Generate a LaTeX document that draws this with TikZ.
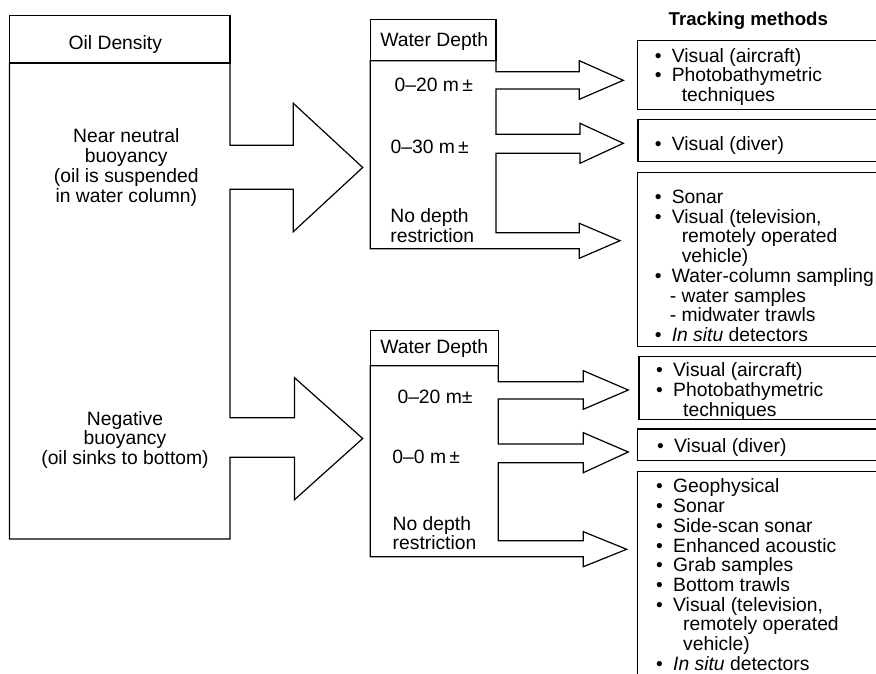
\documentclass[tikz,border=0pt]{standalone}
\usepackage{fontspec}
\setmainfont{Liberation Sans}
\usepackage{tikz}

% bullet lines of the tracking lists
\newcommand{\tmitem}[1]{\makebox[17pt][l]{\textbullet}#1}
\newcommand{\tmmore}[1]{\hspace*{27pt}#1}
\newcommand{\tmsub}[1]{\hspace*{15pt}-\ #1}
\newcommand{\tmtop}{\rule{0pt}{15pt}}

\begin{document}
\begin{tikzpicture}[x=1pt,y=-1pt]

                \edef\sizetext{19.3}
                \tikzstyle{boxline}=[draw,line width=1.2pt,line join=miter]
                \tikzstyle{txt}=[inner sep=0pt,font=\fontsize{\sizetext}{19.7}\selectfont]
                \tikzstyle{lefttext}=[txt,anchor=north west,align=left]
                \tikzstyle{midtext}=[txt,anchor=north,align=center]
                \tikzstyle{tmbox}=[draw,line width=1.2pt,rectangle,anchor=north west,minimum width=300pt]

                \useasboundingbox (0,0) rectangle (876,674);
                \clip (0,0) rectangle (876,674);

                % oil density box with its two arrows
                \draw[boxline] (9.5,15.7) rectangle (230,63);
                \draw[boxline] (230,63) -- (9.5,63) -- (9.5,539) -- (230,539) -- (230,457.3)
                    -- (294.5,457.3) -- (294.5,499.7) -- (362.7,438.5) -- (294.5,377.7) -- (294.5,417.7)
                    -- (230,417.7) -- (230,189.3) -- (293.3,189.3) -- (293.3,231.7) -- (362.7,167.5)
                    -- (293.3,103.3) -- (293.3,145.3) -- (230,145.3) -- cycle;
                \node[midtext] (density) at (115.3,34) {\tmtop Oil Density};
                \node[midtext] (neutral) at (126.3,127.7) {\tmtop Near neutral\\buoyancy\\(oil is suspended\\in water column)};
                \node[midtext] (negative) at (125,410) {\tmtop Negative\\buoyancy\\(oil sinks to bottom)};

                % water depth, suspended oil
                \draw[boxline] (370.3,19.3) rectangle (496,60.7);
                \draw[boxline] (496,60.7) -- (370.3,60.7) -- (370.3,248.7) -- (579.3,248.7) -- (579.3,258.3)
                    -- (620,240.7) -- (579.3,223.3) -- (579.3,232.7) -- (496,232.7) -- (496,153.3)
                    -- (580,153.3) -- (580,163.3) -- (623.3,143.3) -- (580,123.3) -- (580,134.3)
                    -- (496,134.3) -- (496,89) -- (579.3,89) -- (579.3,99.3) -- (623.3,80.3)
                    -- (579.3,60.7) -- (579.3,71.7) -- (496,71.7) -- cycle;
                \node[midtext] (depthA) at (434.2,31.7) {\tmtop Water Depth};
                \node[midtext] (twentyA) at (433.8,76) {\tmtop 0–20 m\,±};
                \node[midtext] (thirtyA) at (429.7,138.3) {\tmtop 0–30 m\,±};
                \node[lefttext] (anyA) at (390.2,207.3) {\tmtop No depth\\restriction};

                % water depth, sinking oil
                \draw[boxline] (370.3,330.7) rectangle (498.3,365.7);
                \draw[boxline] (498.3,365.7) -- (370.3,365.7) -- (370.3,556.7) -- (583.3,556.7) -- (583.3,566.7)
                    -- (626.7,549.3) -- (583.3,531.7) -- (583.3,540.7) -- (498.3,540.7) -- (498.3,462.7)
                    -- (583.3,462.7) -- (583.3,472.7) -- (628.3,452) -- (583.3,432.7) -- (583.3,444)
                    -- (498.3,444) -- (498.3,399) -- (583.3,399) -- (583.3,409.3) -- (628.3,390)
                    -- (583.3,370.7) -- (583.3,381.7) -- (498.3,381.7) -- cycle;
                \node[midtext] (depthB) at (434.2,338.3) {\tmtop Water Depth};
                \node[midtext] (twentyB) at (435,388.3) {\tmtop 0–20 m±};
                \node[midtext] (zeroB) at (426.2,448.3) {\tmtop 0–0 m\,±};
                \node[lefttext] (anyB) at (392.5,515) {\tmtop No depth\\restriction};

                % tracking methods
                \node[txt,anchor=north,font=\bfseries\fontsize{18.6}{19.7}\selectfont] (methods) at (748.3,10) {\tmtop Tracking methods};

                \node[tmbox,minimum height=68.7pt] (airA) at (636.7,40) {};
                \node[tmbox,minimum height=41.4pt] (diverA) at (637.3,119.3) {};
                \node[tmbox,minimum height=174pt] (sonarA) at (636.7,171.7) {};
                \node[tmbox,minimum height=63.3pt] (airB) at (638.3,355.7) {};
                \node[tmbox,minimum height=31.7pt] (diverB) at (636.7,428.3) {};
                \node[tmbox,minimum height=250pt] (sonarB) at (636.7,470.7) {};

                \node[lefttext] (airA-txt) at (654.6,47) {\tmtop\tmitem{Visual (aircraft)}\\\tmitem{Photobathymetric}\\\tmmore{techniques}};
                \node[lefttext] (diverA-txt) at (654.6,135.5) {\tmtop\tmitem{Visual (diver)}};
                \node[lefttext] (sonarA-txt) at (654.6,188.3) {\tmtop\tmitem{Sonar}\\\tmitem{Visual (television,}\\\tmmore{remotely operated}\\\tmmore{vehicle)}\\\tmitem{Water-column sampling}\\\tmsub{water samples}\\\tmsub{midwater trawls}\\\tmitem{\textit{In situ} detectors}};
                \node[lefttext] (airB-txt) at (656,361.7) {\tmtop\tmitem{Visual (aircraft)}\\\tmitem{Photobathymetric}\\\tmmore{techniques}};
                \node[lefttext] (diverB-txt) at (657,437.7) {\tmtop\tmitem{Visual (diver)}};
                \node[lefttext] (sonarB-txt) at (656,477.7) {\tmtop\tmitem{Geophysical}\\\tmitem{Sonar}\\\tmitem{Side-scan sonar}\\\tmitem{Enhanced acoustic}\\\tmitem{Grab samples}\\\tmitem{Bottom trawls}\\\tmitem{Visual (television,}\\\tmmore{remotely operated}\\\tmmore{vehicle)}\\\tmitem{\textit{In situ} detectors}};

\end{tikzpicture}
\end{document}
